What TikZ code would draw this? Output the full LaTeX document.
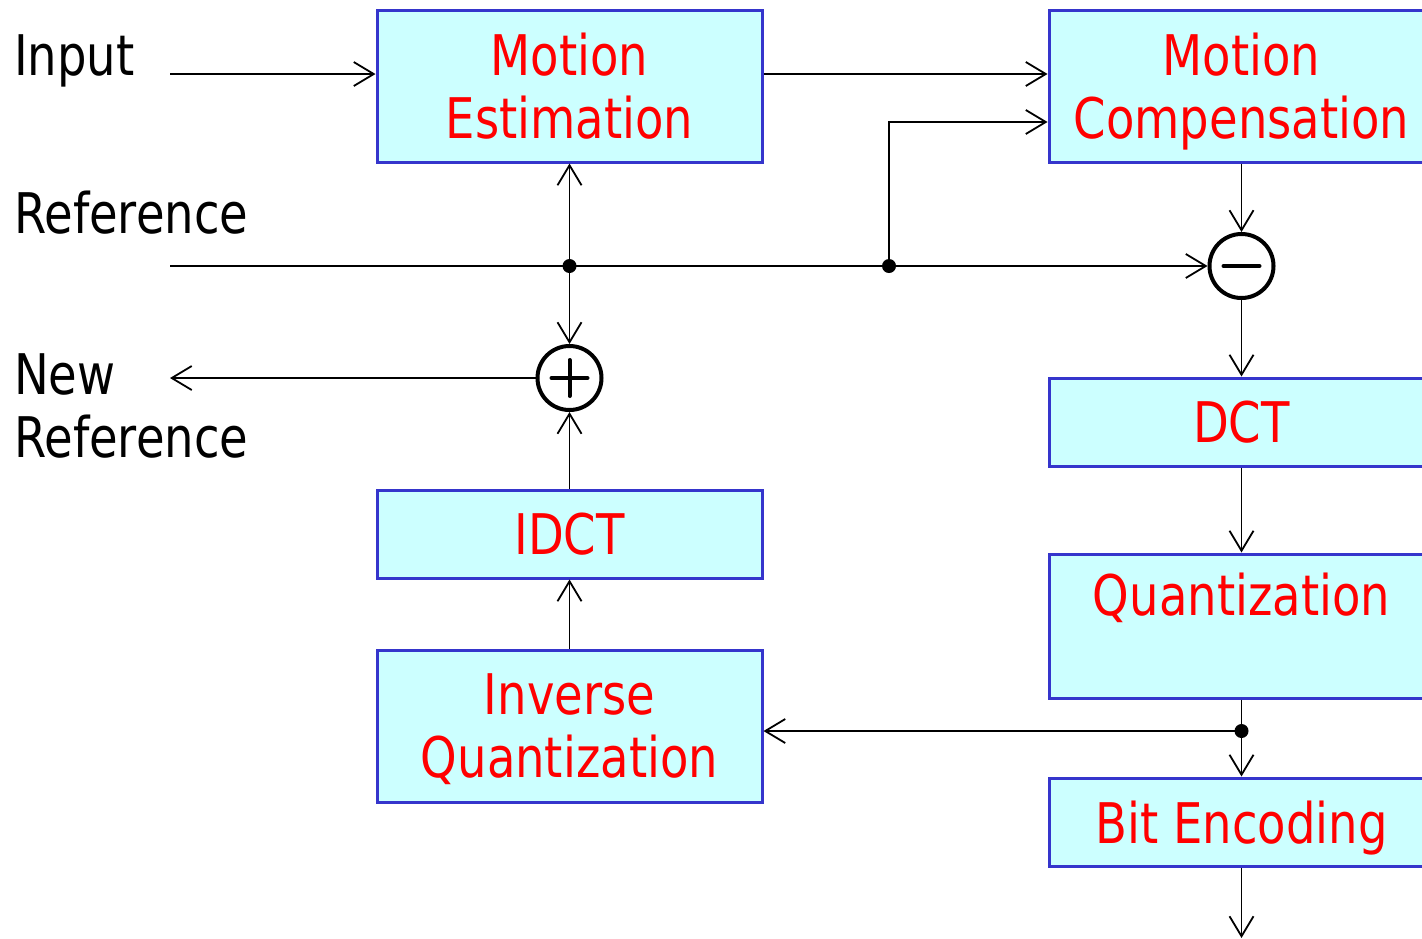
\documentclass[tikz,border=0pt]{standalone}
\usepackage{fontspec}
\setmainfont[FakeStretch=0.83]{DejaVu Sans}
\usetikzlibrary{arrows.meta, positioning, calc}

\definecolor{boxfill}{HTML}{CCFFFF}
\definecolor{boxline}{HTML}{3535CC}
\definecolor{boxtext}{HTML}{FF0000}

\begin{document}
\begin{tikzpicture}[
    x=1pt, y=-1pt,
    font=\fontsize{56}{63}\selectfont,
    block/.style={rectangle, draw=boxline, fill=boxfill, line width=3pt, text=boxtext, align=center, text depth=0pt, minimum width=385pt, inner sep=0pt},
    opnode/.style={circle, draw=black, fill=white, line width=4pt, minimum size=64pt, inner sep=0pt},
    conn/.style={line width=1.8pt, -{Straight Barb[length=20pt, width=24pt, line width=1.8pt]}},
    sym/.style={line width=4pt, line cap=round},
    junction/.style={circle, fill=black, minimum size=14pt, inner sep=0pt},
    label/.style={anchor=base west, inner sep=0pt, align=left}
]
\useasboundingbox (0,0) rectangle (1422,938);

% Blocks
\node[block, minimum height=152pt] (me) at (569.5,86) {Motion\\Estimation};
\node[block, minimum height=152pt] (mc) at (1241.5,86) {Motion\\Compensation};
\node[block, minimum height=88pt] (dct) at (1241.5,422) {DCT};
\node[block, minimum height=144pt] (quant) at (1241.5,626) {Quantization\\\mbox{}};
\node[block, minimum height=88pt] (bitenc) at (1241.5,822) {Bit Encoding};
\node[block, minimum height=88pt] (idct) at (569.5,534) {IDCT};
\node[block, minimum height=152pt] (iquant) at (569.5,726) {Inverse\\Quantization};

% Sum nodes
\node[opnode] (minus) at (1241.5,266) {};
\node[opnode] (plus) at (569.5,378) {};
\draw[sym] ([xshift=-18pt]minus.center) -- ([xshift=18pt]minus.center);
\draw[sym] ([xshift=-18pt]plus.center) -- ([xshift=18pt]plus.center);
\draw[sym] ([yshift=-18pt]plus.center) -- ([yshift=18pt]plus.center);

% Labels
\node[label] (input) at (14,75) {Input};
\node[label] (reflabel) at (14,233) {Reference};
\node[label] (newlabel) at (14,457) {New\\Reference};

% Free ends
\coordinate (in) at (170,74);
\coordinate (ref) at (170,266);
\coordinate (newref) at (170,378);
\coordinate (out) at (1241.5,938);
\coordinate (j1) at (me.south |- ref);
\coordinate (j2) at (889,266);
\coordinate (j3) at (1241.5,731);

% Connections
\draw[conn] (in) -- (in -| me.west);
\draw[conn] ([yshift=12pt]me.east) -- ([yshift=12pt]mc.west);
\draw[conn] (ref) -- (minus.west);
\draw[conn] (j2) |- ([yshift=-36pt]mc.west);
\draw[conn] (j1) -- (me.south);
\draw[conn] (j1) -- (plus.north);
\draw[conn] (plus.west) -- (newref);
\draw[conn] (idct.north) -- (plus.south);
\draw[conn] (iquant.north) -- (idct.south);
\draw[conn] (mc.south) -- (minus.north);
\draw[conn] (minus.south) -- (dct.north);
\draw[conn] (dct.south) -- (quant.north);
\draw[conn] (quant.south) -- (bitenc.north);
\draw[conn] (j3) -- (j3 -| iquant.east);
\draw[conn] (bitenc.south) -- (out);

% Junction dots
\node[junction] at (j1) {};
\node[junction] at (j2) {};
\node[junction] at (j3) {};

\end{tikzpicture}
\end{document}
